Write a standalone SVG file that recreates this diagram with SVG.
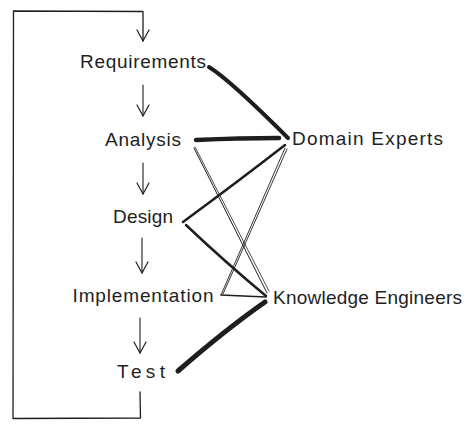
<svg xmlns="http://www.w3.org/2000/svg" width="472" height="429" viewBox="0 0 472 429">
<style>
.t{font-family:"Liberation Sans",sans-serif;font-size:19px;fill:#1e1e1e}
.e{fill:none;stroke:#1e1e1e;stroke-linecap:round;stroke-linejoin:round}
</style>
<defs>
<marker id="ah" markerWidth="14" markerHeight="14" refX="13" refY="7" orient="auto" markerUnits="userSpaceOnUse" viewBox="0 0 14 14">
<path d="M2,1 L13,7 L2,13" fill="none" stroke="#1e1e1e" stroke-width="1.2" stroke-linecap="round" stroke-linejoin="round"/>
</marker>
</defs>
<rect width="472" height="429" fill="#ffffff"/>
<g id="connectors">
<path class="e" stroke-width="1.3" d="M140,392 L140.5,418 L13,418.5 L13.5,11 L143,11.5 L143,41" marker-end="url(#ah)"/>
<path class="e" stroke-width="1.1" d="M143,85 L143,116" marker-end="url(#ah)"/>
<path class="e" stroke-width="1.1" d="M143,163 L143,194" marker-end="url(#ah)"/>
<path class="e" stroke-width="1.1" d="M142,238 L142,273" marker-end="url(#ah)"/>
<path class="e" stroke-width="1.1" d="M140,318 L140,353" marker-end="url(#ah)"/>
<path class="e" stroke-width="4" d="M209,67 Q230,80 288,138"/>
<path class="e" stroke-width="4.5" d="M196,140 Q240,138 279,138"/>
<path class="e" stroke-width="1" d="M194,148 L267,293"/>
<path class="e" stroke-width="0.8" d="M195,147 L269,291"/>
<path class="e" stroke-width="2.5" d="M183,222 Q240,180 285,145"/>
<path class="e" stroke-width="2.5" d="M186,225 Q225,262 266,296"/>
<path class="e" stroke-width="0.9" d="M285,148 L221,295"/>
<path class="e" stroke-width="0.9" d="M287,149 L223,294"/>
<path class="e" stroke-width="1.6" d="M221,295 L266,297"/>
<path class="e" stroke-width="5" d="M178,371 Q225,330 265,302"/>
</g>
<g id="requirements"><text class="t" x="143" y="68" text-anchor="middle" textLength="126">Requirements</text></g>
<g id="analysis"><text class="t" x="143" y="146" text-anchor="middle" textLength="76">Analysis</text></g>
<g id="design"><text class="t" x="143" y="223" text-anchor="middle" textLength="60">Design</text></g>
<g id="implementation"><text class="t" x="143" y="302" text-anchor="middle" textLength="141">Implementation</text></g>
<g id="test"><text class="t" x="141" y="378" text-anchor="middle" textLength="48">Test</text></g>
<g id="domain-experts"><text class="t" x="292" y="145" textLength="151">Domain Experts</text></g>
<g id="knowledge-engineers"><text class="t" x="273" y="304" textLength="189">Knowledge Engineers</text></g>
</svg>
